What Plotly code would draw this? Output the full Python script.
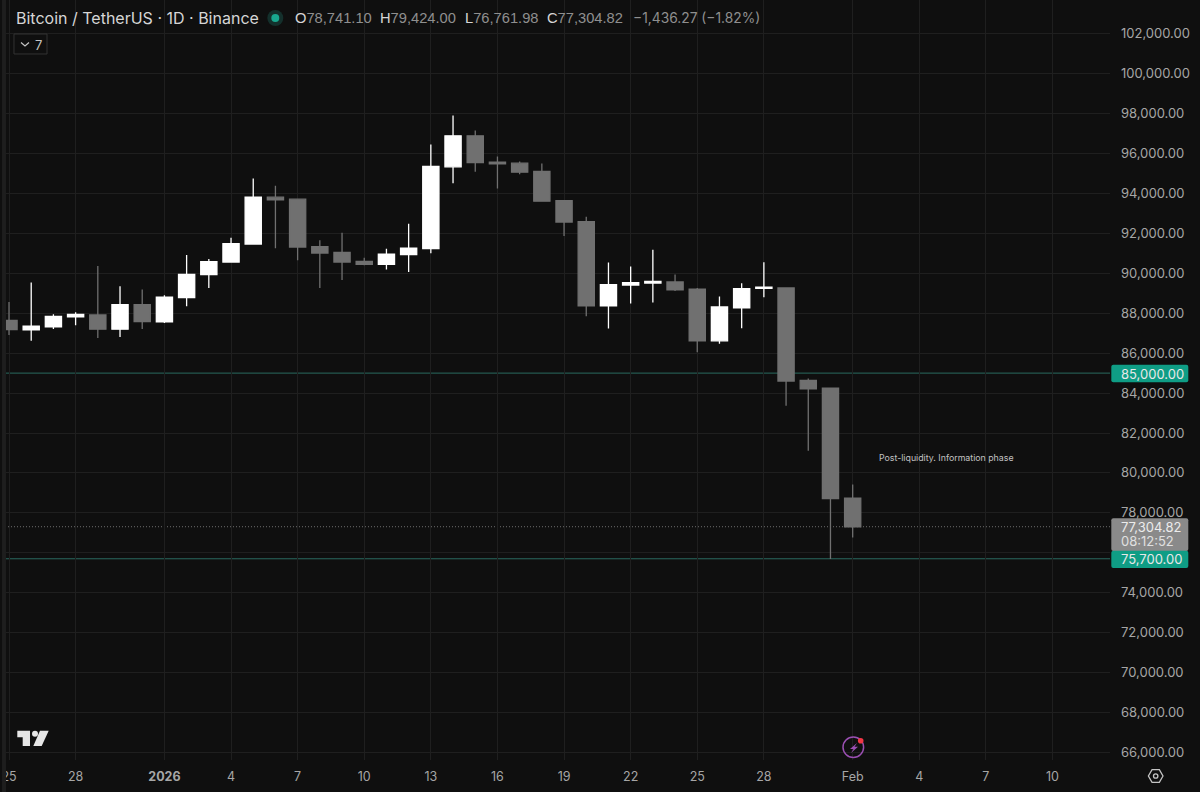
import math
import plotly.graph_objects as go

WIDTH = 1200
HEIGHT = 792
M_LEFT = 5
M_RIGHT = 90
M_BOTTOM = 32

dates = ['2025-12-25', '2025-12-26', '2025-12-27', '2025-12-28', '2025-12-29', '2025-12-30', '2025-12-31',
         '2026-01-01', '2026-01-02', '2026-01-03', '2026-01-04', '2026-01-05', '2026-01-06', '2026-01-07',
         '2026-01-08', '2026-01-09', '2026-01-10', '2026-01-11', '2026-01-12', '2026-01-13', '2026-01-14',
         '2026-01-15', '2026-01-16', '2026-01-17', '2026-01-18', '2026-01-19', '2026-01-20', '2026-01-21',
         '2026-01-22', '2026-01-23', '2026-01-24', '2026-01-25', '2026-01-26', '2026-01-27', '2026-01-28',
         '2026-01-29', '2026-01-30', '2026-01-31', '2026-02-01']
opens = [87635, 87165, 87315, 87815, 87915, 87200, 88435,
         87565, 88785, 89935, 90565, 91465, 93815, 93715,
         91335, 91050, 90600, 90450, 90935, 91235, 95335,
         96885, 95565, 95515, 95100, 93635, 92585, 88365,
         89415, 89515, 89565, 89200, 86615, 88265, 89250,
         89265, 84635, 84250, 78741.10]
highs = [88565, 89535, 87950, 88050, 90365, 89350, 89185,
         88900, 90915, 90715, 91785, 94750, 94385, 93740,
         91650, 92035, 90785, 91235, 92485, 96450, 97900,
         97150, 95850, 95600, 95500, 93650, 92835, 90535,
         90335, 91185, 89935, 89265, 88835, 89500, 90550,
         89290, 84735, 84280, 79424.00]
lows = [86915, 86615, 87215, 87400, 86765, 86815, 87215,
        87515, 88350, 89265, 90550, 91440, 91250, 90650,
        89265, 89665, 90400, 90185, 90065, 91000, 94515,
        95085, 94250, 94965, 93600, 91865, 87850, 87235,
        88485, 88535, 89115, 86050, 86465, 87250, 88800,
        83365, 81115, 75685, 76761.98]
closes = [87185, 87350, 87835, 87935, 87200, 88435, 87585,
          88800, 89950, 90585, 91485, 93815, 93685, 91315,
          91015, 90565, 90450, 90965, 91265, 95350, 96885,
          95550, 95485, 95065, 93615, 92565, 88365, 89435,
          89535, 89600, 89165, 86615, 88315, 89235, 89300,
          84600, 84215, 78715, 77304.82]

tick_dates = ['2025-12-25', '2025-12-28', '2026-01-01', '2026-01-04', '2026-01-07', '2026-01-10', '2026-01-13',
              '2026-01-16', '2026-01-19', '2026-01-22', '2026-01-25', '2026-01-28', '2026-02-01', '2026-02-04',
              '2026-02-07', '2026-02-10']
tick_text = ['25', '28', '<b>2026</b>', '4', '7', '10', '13', '16', '19', '22', '25', '28', 'Feb', '4', '7', '10']
price_ticks = list(range(66000, 104000, 2000))
# 76,000 sits under the price tags, so only its grid line shows
price_labels = ['' if p == 76000 else f'{p:,.2f}' for p in price_ticks]

levels = [85000, 75700]
last_price = 77304.82

BG = '#0f0f0f'
GRID = '#1f1f1f'
DOWN = '#707070'
UP = '#ffffff'
TEAL = '#0f9d85'
LEVEL = '#2a6a60'
TEXT = '#a6a6a6'
FONT = 'Inter, Liberation Sans, sans-serif'


def px(x):
    return (x - M_LEFT) / (WIDTH - M_LEFT - M_RIGHT)


def py(y):
    return 1 - y / (HEIGHT - M_BOTTOM)


def pixel_path(points):
    return 'M' + ' L'.join(f'{px(x):.5f},{py(y):.5f}' for x, y in points) + ' Z'


def paper_shape(points, fill, line=None, width=1):
    return dict(type='path', xref='paper', yref='paper', path=pixel_path(points), fillcolor=fill,
                line=dict(color=line or 'rgba(0,0,0,0)', width=width), layer='above')


def paper_circle(cx, cy, r, fill, line=None, width=1):
    return dict(type='circle', xref='paper', yref='paper', x0=px(cx - r), x1=px(cx + r), y0=py(cy + r), y1=py(cy - r),
                fillcolor=fill, line=dict(color=line or 'rgba(0,0,0,0)', width=width), layer='above')


def rounded_tag(x0, y0, x1, y1, fill, r=2):
    path = (f'M{px(x0 + r):.5f},{py(y0):.5f} L{px(x1 - r):.5f},{py(y0):.5f} Q{px(x1):.5f},{py(y0):.5f} {px(x1):.5f},{py(y0 + r):.5f} '
            f'L{px(x1):.5f},{py(y1 - r):.5f} Q{px(x1):.5f},{py(y1):.5f} {px(x1 - r):.5f},{py(y1):.5f} '
            f'L{px(x0 + r):.5f},{py(y1):.5f} Q{px(x0):.5f},{py(y1):.5f} {px(x0):.5f},{py(y1 - r):.5f} '
            f'L{px(x0):.5f},{py(y0 + r):.5f} Q{px(x0):.5f},{py(y0):.5f} {px(x0 + r):.5f},{py(y0):.5f} Z')
    return dict(type='path', xref='paper', yref='paper', path=path, fillcolor=fill, line=dict(width=0), layer='above')


def label(x, y, text, color=TEXT, size=13, anchor='left', family=FONT):
    return dict(xref='paper', yref='paper', x=px(x), y=py(y), text=text, showarrow=False, xanchor=anchor,
                yanchor='middle', font=dict(family=family, size=size, color=color), borderpad=0)


fig = go.Figure(go.Candlestick(
    x=dates, open=opens, high=highs, low=lows, close=closes,
    increasing=dict(line=dict(color=UP, width=1.3), fillcolor=UP),
    decreasing=dict(line=dict(color=DOWN, width=1.3), fillcolor=DOWN),
    whiskerwidth=0,
    hoverinfo='skip',
))

shapes = []
for level in levels:
    shapes.append(dict(type='line', xref='paper', yref='y', x0=0, x1=1, y0=level, y1=level,
                       line=dict(color=LEVEL, width=1), layer='below'))
shapes.append(dict(type='line', xref='paper', yref='y', x0=0, x1=1, y0=last_price, y1=last_price,
                   line=dict(color='#6e6e6e', width=1, dash='1px,2px'), layer='below'))

# left edge strip and the little collapse button
shapes.append(paper_shape([(2, 0), (6, 0), (6, 792), (2, 792)], '#1e1e1e'))
shapes.append(paper_shape([(14, 34), (47, 34), (47, 54), (14, 54)], 'rgba(0,0,0,0)', '#333333'))
shapes.append(dict(type='path', xref='paper', yref='paper', layer='above', line=dict(color='#c4c4c4', width=1.2),
                   path=f'M{px(21):.5f},{py(42.5):.5f} L{px(25):.5f},{py(46):.5f} L{px(29):.5f},{py(42.5):.5f}'))

# status dot in the header
shapes.append(paper_circle(275.3, 18, 8, '#14302c'))
shapes.append(paper_circle(275.3, 18, 4, '#18a78f'))

# tradingview logo
shapes.append(paper_shape([(17.3, 730.7), (30, 730.7), (30, 746), (22.7, 746), (22.7, 737.3), (17.3, 737.3)], '#e6e6e6'))
shapes.append(paper_circle(35, 733.7, 3, '#e6e6e6'))
shapes.append(paper_shape([(40, 730.7), (48.7, 730.7), (41.7, 746), (33.3, 746)], '#e6e6e6'))

# lightning badge
shapes.append(paper_circle(853.3, 747.3, 10.3, 'rgba(0,0,0,0)', '#9a4fb2', 1.5))
shapes.append(paper_shape([(857, 743), (850, 749), (853.5, 749), (851, 753), (858, 746.8), (854.5, 746.8)], '#9a4fb2'))
shapes.append(paper_circle(860.7, 740.7, 2.8, '#f23645'))

# settings hexagon
hexagon = [(1155.7 + 7.3 * math.cos(math.radians(a)), 776 + 7.3 * math.sin(math.radians(a))) for a in range(0, 360, 60)]
shapes.append(paper_shape(hexagon, 'rgba(0,0,0,0)', '#c4c4c4', 1.3))
shapes.append(paper_circle(1155.7, 776, 2.2, 'rgba(0,0,0,0)', '#c4c4c4', 1.3))

# price tags on the axis
shapes.append(rounded_tag(1111.3, 518.3, 1188.3, 551, '#8a8a8a'))
shapes.append(rounded_tag(1111.3, 364.7, 1188.3, 382.3, TEAL))
shapes.append(rounded_tag(1111.3, 550.7, 1188.3, 568, TEAL))

annotations = [
    label(15, 18, 'Bitcoin / TetherUS · 1D · Binance', '#d6d6d6', 16),
    label(34, 44.5, '7', '#c4c4c4', 13),
    label(878, 457.5, 'Post-liquidity. Information phase', '#c2c2c2', 8.8),
    label(1120, 373.5, '85,000.00', '#e8e8e8', 13),
    label(1120, 526.7, '77,304.82', '#ececec', 13),
    label(1120, 541, '08:12:52', '#e0e0e0', 13),
    label(1120, 559, '75,700.00', '#e8e8e8', 13),
]
header_x = [294, 379, 463.5, 545.5]
header_keys = ['O', 'H', 'L', 'C']
header_vals = ['78,741.10', '79,424.00', '76,761.98', '77,304.82']
for hx, key, val in zip(header_x, header_keys, header_vals):
    annotations.append(label(hx, 18, f'<span style="color:#d6d6d6">{key}</span>{val}', '#8f8f8f', 14.7,
                             family='Liberation Sans'))
annotations.append(label(632, 18, '−1,436.27 (−1.82%)', '#8f8f8f', 13.8))

fig.update_layout(
    width=WIDTH,
    height=HEIGHT,
    margin=dict(l=M_LEFT, r=M_RIGHT, t=0, b=M_BOTTOM, pad=0),
    paper_bgcolor=BG,
    plot_bgcolor=BG,
    showlegend=False,
    boxgap=0.27,
    boxgroupgap=0,
    shapes=shapes,
    annotations=annotations,
    font=dict(family=FONT, size=13, color=TEXT),
    xaxis=dict(
        type='date',
        range=['2025-12-24 19:40', '2026-02-12 14:10'],
        tickmode='array',
        tickvals=tick_dates,
        ticktext=tick_text,
        tickfont=dict(size=12.5, color=TEXT),
        ticks='',
        ticklabelstandoff=7,
        showgrid=True,
        gridcolor=GRID,
        gridwidth=1,
        zeroline=False,
        showline=False,
        rangeslider=dict(visible=False),
    ),
    yaxis=dict(
        side='right',
        range=[65620, 103690],
        tickmode='array',
        tickvals=price_ticks,
        ticktext=price_labels,
        tickfont=dict(size=13, color=TEXT),
        ticks='',
        ticklabelstandoff=10,
        showgrid=True,
        gridcolor=GRID,
        gridwidth=1,
        zeroline=False,
        showline=False,
    ),
)

fig.write_html('out.html', config=dict(displayModeBar=False),
               post_script="document.body.style.margin='0';document.body.style.background='#0f0f0f';")
